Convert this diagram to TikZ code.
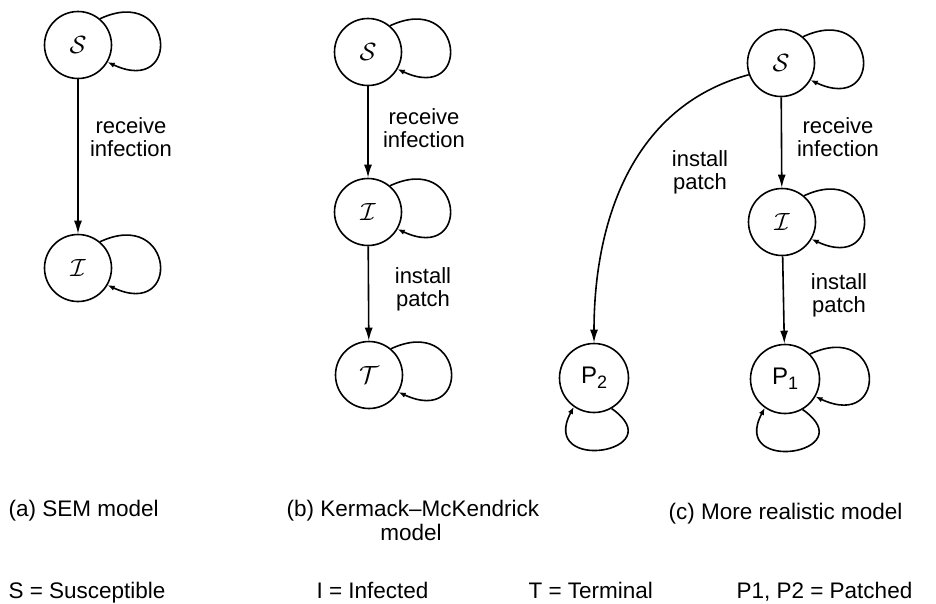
\documentclass[tikz,border=0pt]{standalone}
\usepackage{fontspec}
\setmainfont{Liberation Sans}
\usetikzlibrary{arrows.meta}
\newcommand{\psub}[1]{\raisebox{-5pt}{\fontsize{18}{18}\selectfont #1}}
\begin{document}
\begin{tikzpicture}[x=1pt,y=-1pt,
  state/.style={draw,circle,line width=1.6pt,minimum size=67pt,inner sep=0pt,
    font=\fontsize{26}{26}\selectfont},
  pstate/.style={state,minimum size=69pt,font=\fontsize{24}{24}\selectfont},
  arr/.style={-{Latex[length=13pt,width=8pt]},line width=1.6pt},
  larr/.style={-{Latex[length=7pt,width=5.5pt]},line width=1.6pt},
  rloop/.style={larr,out=25,in=-25,distance=82},
  bloop/.style={larr,out=-35,in=-118,distance=76},
  lbl/.style={align=center,font=\fontsize{22}{23}\selectfont},
  captxt/.style={anchor=base west,font=\fontsize{22.5}{24}\selectfont}]
\useasboundingbox (0,0) rectangle (936,603);

% (a) SEM model
\node[state] (aS) at (78,45) {$\mathcal{S}$};
\node[state] (aI) at (78,268) {$\mathcal{I}$};
\draw[arr] (aS) -- (aI);
\node[lbl] (aL) at (131,137) {receive\\infection};
\draw[rloop] (aS.50) to (aS.-30);
\draw[rloop] (aI.50) to (aI.-30);

% (b) Kermack-McKendrick model
\node[state] (bS) at (368,52) {$\mathcal{S}$};
\node[state] (bI) at (368,212) {$\mathcal{I}$};
\node[state] (bT) at (369,375) {$\mathcal{T}$};
\draw[arr] (bS) -- (bI);
\draw[arr] (bI) -- (bT);
\node[lbl] (bL1) at (424,128) {receive\\infection};
\node[lbl] (bL2) at (423,289) {install\\patch};
\draw[rloop] (bS.50) to (bS.-30);
\draw[rloop] (bI.50) to (bI.-30);
\draw[rloop] (bT.50) to (bT.-30);

% (c) more realistic model
\node[state] (cS) at (781,63) {$\mathcal{S}$};
\node[state] (cI) at (782,222) {$\mathcal{I}$};
\node[pstate] (cP1) at (785,379) {P\psub{1}};
\node[pstate] (cP2) at (594,378) {P\psub{2}};
\draw[arr] (cS) -- (cI);
\draw[arr] (cI) -- (cP1);
\draw[arr] (cS.200) to[out=195,in=90] (cP2.north);
\node[lbl] (cL1) at (838,137) {receive\\infection};
\node[lbl] (cL2) at (700,172) {install\\patch};
\node[lbl] (cL3) at (839,295) {install\\patch};
\draw[rloop] (cS.50) to (cS.-30);
\draw[rloop] (cI.50) to (cI.-30);
\draw[rloop] (cP1.45) to (cP1.-30);
\draw[bloop] (cP1.-60) to (cP1.-125);
\draw[bloop] (cP2.-60) to (cP2.-125);

% captions
\node[captxt] (capA) at (5,516) {(a) SEM model};
\node[captxt] (capB) at (283,516) {(b) Kermack--McKendrick};
\node[captxt,anchor=base] (capB2) at (411,540) {model};
\node[captxt] (capC) at (665,519) {(c) More realistic model};
\node[captxt] (keyS) at (5,598) {S = Susceptible};
\node[captxt] (keyI) at (313,598) {I = Infected};
\node[captxt] (keyT) at (525,598) {T = Terminal};
\node[captxt] (keyP) at (733,598) {P1, P2 = Patched};
\end{tikzpicture}
\end{document}
